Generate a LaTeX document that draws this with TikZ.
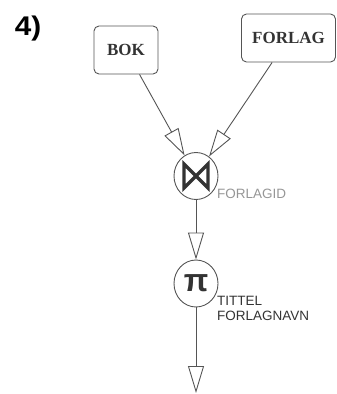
\documentclass[tikz,border=0pt]{standalone}
\usepackage{fontspec}
\setmainfont{Liberation Serif}
\newfontfamily\attrfont{Liberation Sans}
\usetikzlibrary{shapes.geometric, arrows.meta, positioning}
\definecolor{EdgeGray}{RGB}{85, 85, 85}
\definecolor{TextDark}{RGB}{51, 51, 51}
\definecolor{AttrGray}{RGB}{150, 150, 150}

\begin{document}
\begin{tikzpicture}[x=1pt, y=-1pt,
    relbox/.style={draw=EdgeGray, rounded corners=5pt, line width=0.9pt, text=TextDark,
                   font=\fontsize{17}{20}\selectfont\bfseries, inner sep=0pt, minimum height=48pt},
    opnode/.style={draw=EdgeGray, ellipse, line width=0.9pt, inner sep=0pt,
                   minimum width=44pt, minimum height=47pt},
    flow/.style={draw=EdgeGray, line width=0.9pt, -{Triangle[open, length=27pt, width=16pt]}},
    attr/.style={font=\attrfont\fontsize{13.5}{15}\selectfont, inner sep=0pt, align=left}]
    \useasboundingbox (0,0) rectangle (337,394);

    % Task number
    \node[font=\attrfont\bfseries\fontsize{27}{27}\selectfont, xscale=1.1] (num) at (28,29) {4)};

    % Source relations
    \node[relbox, minimum width=64pt] (bok) at (126,50) {BOK};
    \node[relbox, minimum width=94pt] (forlag) at (288.5,38) {FORLAG};

    % Join on FORLAGID
    \node[opnode] (join) at (196,176) {};
    \draw[line width=3.2pt, TextDark, line join=miter]
        (join.center) ++(-12,-12) -- ++(24,24) -- ++(0,-24) -- ++(-24,24) -- cycle;
    \node[attr, text=AttrGray, anchor=base west] (joinattr) at (217,198) {FORLAGID};

    % Projection
    \node[opnode, font=\attrfont\bfseries\fontsize{32}{32}\selectfont, text=TextDark] (proj) at (196,283.5) {π};
    \node[attr, text=TextDark, anchor=north west] (projattr) at (217,296) {TITTEL\\FORLAGNAVN};
    \coordinate (out) at (196,393);

    % Data flow
    \draw[flow] (bok) -- (join);
    \draw[flow] (forlag) -- (join);
    \draw[flow] (join) -- (proj);
    \draw[flow] (proj) -- (out);
\end{tikzpicture}
\end{document}
